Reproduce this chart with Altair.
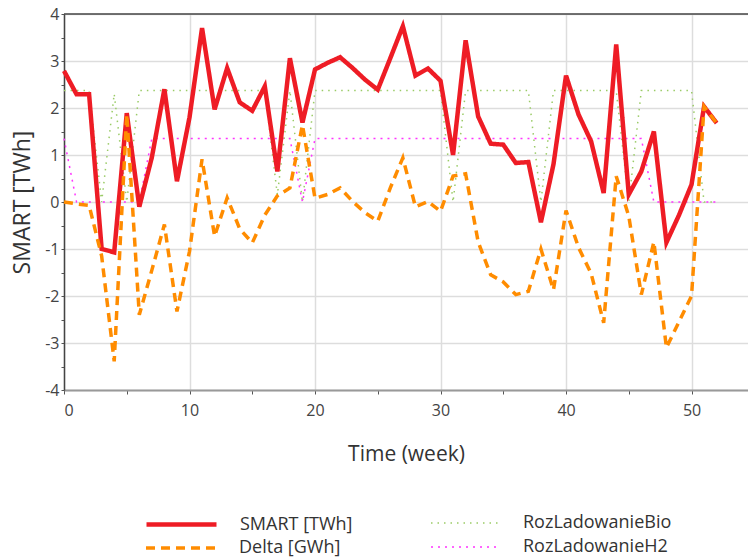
import altair as alt
import pandas as pd

weeks = list(range(53))

smart = [2.79, 2.29, 2.29, -1.0, -1.07, 1.89, -0.1, 0.95, 2.4, 0.44,
         1.8, 3.7, 1.97, 2.85, 2.12, 1.94, 2.46, 0.65, 3.06, 1.69,
         2.82, 2.96, 3.08, 2.85, 2.6, 2.39, 3.06, 3.74, 2.69, 2.84,
         2.58, 1.0, 3.44, 1.82, 1.24, 1.22, 0.83, 0.85, -0.43, 0.8,
         2.69, 1.86, 1.29, 0.19, 3.35, 0.16, 0.65, 1.5, -0.86, -0.28,
         0.37, 2.03, 1.68]

delta = [0.0, -0.04, -0.07, -1.15, -3.39, 1.87, -2.4, -1.45, -0.48, -2.33,
         -1.05, 0.91, -0.73, 0.09, -0.57, -0.87, -0.28, 0.13, 0.3, 1.64,
         0.08, 0.16, 0.3, 0.01, -0.23, -0.41, 0.3, 0.94, -0.1, 0.01,
         -0.2, 0.55, 0.6, -0.85, -1.55, -1.7, -1.97, -1.9, -1.0, -1.87,
         -0.18, -0.97, -1.52, -2.57, 0.55, -0.3, -1.97, -0.85, -3.1, -2.55,
         -2.0, 2.03, 1.68]

bio = [2.37, 2.37, 2.37, 0.0, 2.3, 0.0, 2.37, 2.37, 2.37, 2.37,
       2.37, 2.37, 2.37, 2.37, 2.37, 2.37, 2.37, 0.15, 2.37, 0.0,
       2.37, 2.37, 2.37, 2.37, 2.37, 2.37, 2.37, 2.37, 2.37, 2.37,
       2.37, 0.0, 2.37, 2.37, 2.37, 2.37, 2.37, 2.37, 0.0, 2.37,
       2.37, 2.37, 2.37, 2.37, 2.37, 0.0, 2.37, 2.37, 2.37, 2.37,
       2.37, 0.0, 0.0]

h2 = [1.35, 0.0, 0.0, 0.0, 0.0, 0.0, 0.0, 1.35, 1.35, 1.35,
      1.35, 1.35, 1.35, 1.35, 1.35, 1.35, 1.35, 1.35, 1.35, 0.0,
      1.35, 1.35, 1.35, 1.35, 1.35, 1.35, 1.35, 1.35, 1.35, 1.35,
      1.35, 1.35, 1.35, 1.35, 1.35, 1.35, 1.35, 1.35, 1.35, 1.35,
      1.35, 1.35, 1.35, 1.35, 1.35, 1.35, 1.35, 0.0, 0.0, 0.0,
      0.0, 0.0, 0.0]

names = ["SMART [TWh]", "Delta [GWh]", "RozLadowanieBio", "RozLadowanieH2"]
series_values = [smart, delta, bio, h2]

rows = []
for name, vals in zip(names, series_values):
    for w, v in zip(weeks, vals):
        rows.append({"week": w, "value": v, "series": name})
df = pd.DataFrame(rows)

# styling per series (legend placed as two columns x two rows)
style = {
    "SMART [TWh]":     dict(color="#EE1C25", dash=[1, 0],   width=4.5, lx=80,  ly=473),
    "Delta [GWh]":     dict(color="#FF8C00", dash=[9, 6],   width=3.5, lx=80,  ly=497),
    "RozLadowanieBio": dict(color="#9ACB66", dash=[1.5, 5], width=1.5, lx=366, ly=473),
    "RozLadowanieH2":  dict(color="#FF33FF", dash=[2, 5],   width=1.5, lx=366, ly=497),
}
draw_order = ["RozLadowanieBio", "RozLadowanieH2", "SMART [TWh]", "Delta [GWh]"]

FONT = "Open Sans"

x_enc = alt.X(
    "week:Q",
    scale=alt.Scale(domain=[0, 54.5], nice=False, zero=False),
    axis=alt.Axis(
        values=list(range(0, 55, 5)),
        labelExpr="datum.value % 10 === 0 ? '' + datum.value : ''",
        gridOpacity={"condition": {"test": "datum.value % 10 !== 0", "value": 0}, "value": 1},
        title="Time (week)",
        titleFontSize=21,
        titlePadding=25,
        labelFontSize=16,
        labelPadding=8,
        domainColor="#999999",
        domainWidth=2,
        tickColor="#555555",
        tickSize=4,
        gridColor="#DDDDDD",
        gridWidth=1.5,
    ),
)

y_enc = alt.Y(
    "value:Q",
    scale=alt.Scale(domain=[-4, 4], nice=False, zero=False),
    axis=alt.Axis(
        values=[v / 2 for v in range(-8, 9)],
        labelExpr="datum.value % 1 === 0 ? '' + datum.value : ''",
        gridOpacity={"condition": {"test": "datum.value % 1 !== 0", "value": 0}, "value": 1},
        title="SMART [TWh]",
        titleFontSize=23,
        titlePadding=10,
        labelFontSize=16,
        labelPadding=2,
        domainColor="#444444",
        domainWidth=1.5,
        tickColor="#555555",
        tickSize=3,
        gridColor="#DDDDDD",
        gridWidth=1.5,
    ),
)

layers = []
for name in draw_order:
    s = style[name]
    leg = alt.Legend(
        title=None,
        orient="none",
        legendX=s["lx"],
        legendY=s["ly"],
        labelFontSize=18,
        labelColor="#333333",
        labelOffset=21,
        symbolType="stroke",
        symbolSize=4900,
        symbolStrokeWidth=s["width"],
        symbolDash=s["dash"],
    )
    layers.append(
        alt.Chart(df)
        .transform_filter(alt.datum.series == name)
        .mark_line(strokeWidth=s["width"], strokeDash=s["dash"])
        .encode(
            x=x_enc,
            y=y_enc,
            color=alt.Color("series:N", scale=alt.Scale(domain=[name], range=[s["color"]]), legend=leg),
        )
    )

top_rule = alt.Chart(pd.DataFrame({"a": [0]})).mark_rule(color="#444444", strokeWidth=1.5).encode(
    y=alt.value(0)
)

chart = alt.layer(*layers, top_rule).resolve_scale(color="independent").properties(
    width=684,
    height=376,
    autosize=alt.AutoSizeParams(type="none"),
    padding={"left": 64, "top": 14, "right": 0, "bottom": 168},
    background="white",
).configure_view(stroke=None).configure_axis(
    labelFont=FONT, titleFont=FONT, labelColor="#444444", titleColor="#333333", titleFontWeight="normal"
).configure_legend(labelFont=FONT)

chart.save("out.html", embed_options={"renderer": "svg", "actions": False})
